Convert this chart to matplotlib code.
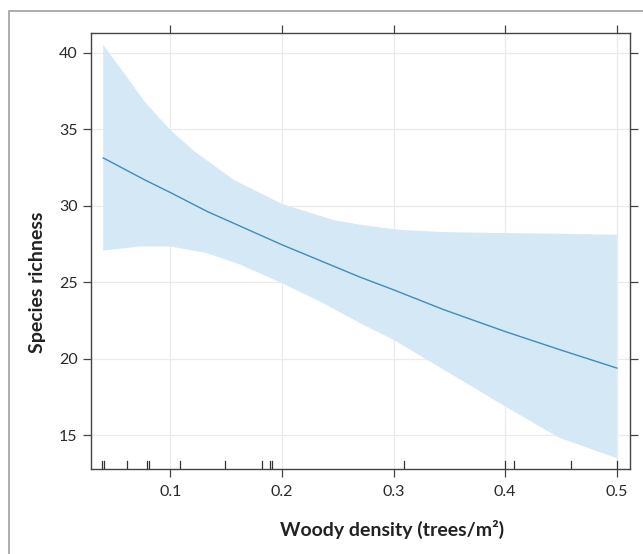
import matplotlib
matplotlib.use('Agg')
import matplotlib.pyplot as plt
from matplotlib.patches import Rectangle
import numpy as np

# Fitted effect of woody density on species richness
fit_x = [0.040, 0.077, 0.100, 0.133, 0.200, 0.270, 0.300, 0.345, 0.400, 0.449, 0.500]
fit_y = [33.13, 31.70, 30.87, 29.63, 27.45, 25.33, 24.50, 23.20, 21.77, 20.58, 19.38]

# Upper / lower confidence limits
upper_x = [0.040, 0.062, 0.077, 0.100, 0.122, 0.157, 0.200, 0.246, 0.270, 0.306, 0.345, 0.400, 0.449, 0.500]
upper_y = [40.52, 38.34, 36.81, 34.96, 33.54, 31.69, 30.12, 29.07, 28.76, 28.42, 28.28, 28.21, 28.17, 28.10]
lower_x = [0.040, 0.073, 0.100, 0.133, 0.163, 0.200, 0.237, 0.270, 0.300, 0.345, 0.400, 0.449, 0.500]
lower_y = [27.07, 27.34, 27.34, 26.90, 26.14, 24.94, 23.63, 22.32, 21.23, 19.27, 16.87, 14.80, 13.49]

# Observed woody densities (rug)
rug_x = [0.039, 0.041, 0.061, 0.0795, 0.081, 0.109, 0.149, 0.182, 0.189, 0.191,
         0.309, 0.400, 0.408, 0.459, 0.500]

x_ticks = [0.1, 0.2, 0.3, 0.4, 0.5]
y_ticks = [15, 20, 25, 30, 35, 40]

plt.rcParams['font.family'] = ['Lato', 'DejaVu Sans']

fig = plt.figure(figsize=(6.43, 5.54), dpi=100)
ax = fig.add_axes([0.141, 0.153, 0.839, 0.787])

# Outer panel border (continues past the image edges)
fig.add_artist(Rectangle((9 / 643, -0.2), 1.2, 1.2 - 10.7 / 554,
                         transform=fig.transFigure, fill=False,
                         edgecolor='#a0a0a0', linewidth=1.2))

band_x = np.concatenate([upper_x, lower_x[::-1]])
band_y = np.concatenate([upper_y, lower_y[::-1]])
ax.fill(band_x, band_y, color='#d5e8f6', linewidth=0, zorder=2)
ax.plot(fit_x, fit_y, color='#3f8db8', linewidth=1.0, zorder=3)

# rug along the bottom
for rx in rug_x:
    ax.axvline(rx, ymin=0, ymax=0.018, color='#333333', linewidth=0.9, zorder=4)

ax.set_xlim(0.0287, 0.5119)
ax.set_ylim(12.76, 41.29)
ax.set_xticks(x_ticks)
ax.set_yticks(y_ticks)
ax.set_xticklabels([f"{t:.1f}" for t in x_ticks])

ax.grid(True, color='#ebebeb', linewidth=0.9, zorder=0)
ax.set_axisbelow(True)

ax.tick_params(axis='both', which='both', direction='out', length=5.5,
               width=0.9, color='#444444', labelsize=11.5, labelcolor='#2a2a2a',
               top=True, right=True, labeltop=False, labelright=False)
ax.tick_params(axis='x', pad=6)
ax.tick_params(axis='y', pad=4)

for s in ax.spines.values():
    s.set_color('#444444')
    s.set_linewidth(1.0)

fig.text(392 / 643, 1 - 529 / 554, 'Woody density (trees/m²)', ha='center', va='center',
         fontsize=14, fontweight='bold', color='#222222')
fig.text(37 / 643, 1 - 282 / 554, 'Species richness', ha='center', va='center',
         rotation=90, fontsize=14, fontweight='bold', color='#222222')

plt.savefig('out.png', dpi=100)
plt.close()
